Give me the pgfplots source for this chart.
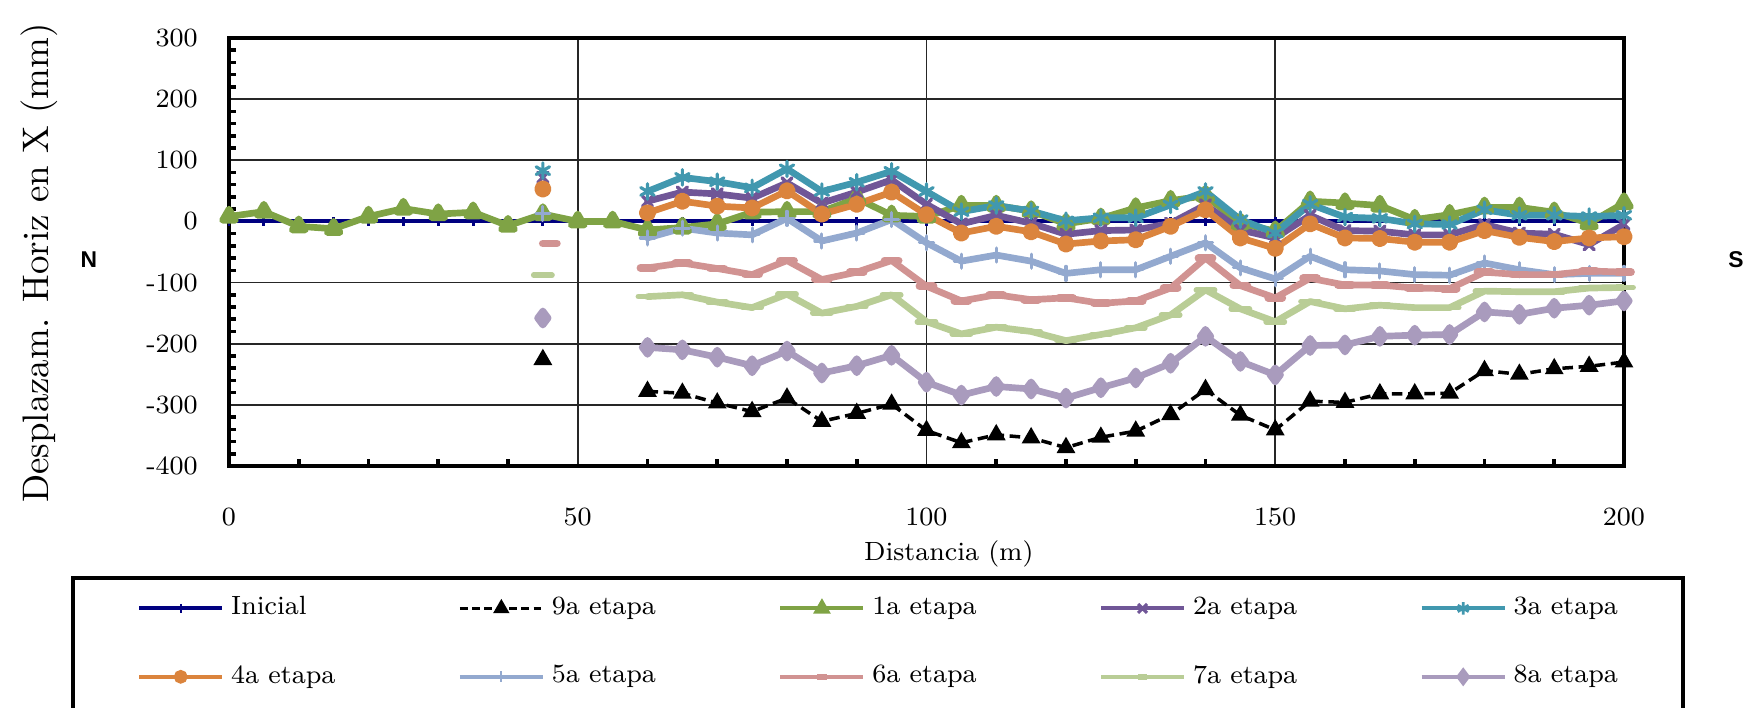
\documentclass[border=0pt]{standalone}
\usepackage{fontspec}
\newfontfamily\nsfont{Liberation Sans}
\usepackage{pgfplots}
\pgfplotsset{compat=1.18}

\definecolor{cIni}{RGB}{0,0,128}
\definecolor{c1}{RGB}{127,163,69}
\definecolor{c2}{RGB}{112,86,151}
\definecolor{c3}{RGB}{65,152,175}
\definecolor{c4}{RGB}{219,132,61}
\definecolor{c5}{RGB}{147,169,207}
\definecolor{c6}{RGB}{209,147,146}
\definecolor{c7}{RGB}{185,205,150}
\definecolor{c8}{RGB}{169,155,189}

\pgfplotsset{
  ln/.style={line width=1.9pt, line join=round, line cap=round},
  sIni/.style={cIni, line width=1.1pt, mark=|, mark size=1.2pt, mark options={line width=0.8pt}},
  s9/.style={black, line width=1pt, dash pattern=on 3pt off 1.6pt, mark=triangle*, mark size=2.1pt, mark options={solid}},
  s1/.style={c1, ln, mark=triangle*, mark size=2.1pt},
  s2/.style={c2, ln, mark=x, mark size=2pt, mark options={line width=1pt}},
  s3/.style={c3, ln, mark=asterisk, mark size=2.2pt, mark options={line width=0.9pt}},
  s4/.style={c4, ln, mark=*, mark size=1.5pt},
  s5/.style={c5, ln, mark=+, mark size=2pt, mark options={line width=0.9pt}},
  s6/.style={c6, ln, mark=-, mark size=2pt, mark options={line width=2.2pt, line cap=round}},
  s7/.style={c7, ln, mark=-, mark size=2.6pt, mark options={line width=1.6pt, line cap=round}},
  s8/.style={c8, ln, mark=diamond*, mark size=2pt},
}

\begin{document}
\begin{tikzpicture}
\begin{axis}[
  scale only axis, width=13.95cm, height=4.28cm,
  xmin=0, xmax=200, ymin=-400, ymax=300,
  xtick={0,50,...,200}, ytick={-400,-300,...,300},
  minor x tick num=4, minor y tick num=4,
  tick pos=left, tick align=inside,
  major tick length=0pt, minor tick length=0.07cm,
  tick style={black, line width=1pt},
  grid=major, major grid style={black!85, line width=0.5pt},
  axis line style={line width=1.1pt},
  /pgf/number format/assume math mode=true,
  ticklabel style={font=\fontsize{7.5}{9}\selectfont},
  xticklabel style={anchor=center, yshift=-0.51cm},
  yticklabel style={anchor=east, xshift=-0.19cm},
  xlabel={Distancia (m)},
  xlabel style={at={(axis description cs:0.516,-0.206)}, anchor=center, font=\fontsize{7.5}{9}\selectfont},
  ylabel={Desplazam. Horiz en X (mm)},
  ylabel style={at={(axis description cs:-0.136,0.474)}, anchor=center, font=\fontsize{10.5}{12}\selectfont},
  unbounded coords=jump,
  legend columns=5,
  legend cell align=left,
  legend style={at={(axis description cs:-0.0738,-0.4124)}, anchor=west,
    draw=none, fill=none, font=\fontsize{7.5}{8.5}\selectfont,
    /tikz/every even column/.append style={column sep=1.155cm},
    row sep=0.31cm},
  legend image code/.code={\draw[mark repeat=2, mark phase=2, #1]
    plot coordinates {(0cm,0cm) (0.415cm,0cm) (0.83cm,0cm)};},
]
% Inicial
\addplot[sIni, forget plot] coordinates {
(0,0)(5,0)(10,0)(15,0)(20,0)(25,0)(30,0)(35,0)(40,0)(45,0)(50,0)(55,0)(60,0)(65,0)(70,0)
(75,0)(80,0)(85,0)(90,0)(95,0)(100,0)(105,0)(110,0)(115,0)(120,0)(125,0)(130,0)(135,0)
(140,0)(145,0)(150,0)(155,0)(160,0)(165,0)(170,0)(175,0)(180,0)(185,0)(190,0)(195,0)(200,0)};
% 9a etapa
\addplot[s9, forget plot] coordinates {
(45,-226)(50,nan)(60,-278)(65,-281)(70,-297)(75,-311)(80,-289)(85,-327)(90,-314)(95,-299)
(100,-342)(105,-362)(110,-349)(115,-354)(120,-370)(125,-353)(130,-343)(135,-316)(140,-275)
(145,-317)(150,-341)(155,-294)(160,-296)(165,-282)(170,-282)(175,-281)(180,-244)(185,-250)
(190,-241)(195,-237)(200,-230)};
% 1a etapa
\addplot[s1, forget plot] coordinates {
(0,8)(5,16)(10,-8)(15,-12)(20,8)(25,21)(30,12)(35,15)(40,-7)(45,12)(50,0)(55,0)(60,-14)
(65,-10)(70,-4)(75,15)(80,16)(85,16)(90,38)(95,10)(100,8)(105,26)(110,26)(115,17)(120,-4)
(125,5)(130,22)(135,34)(140,42)(145,-3)(150,-16)(155,33)(160,30)(165,26)(170,3)(175,11)
(180,23)(185,23)(190,15)(195,-3)(200,30)};
% 2a etapa
\addplot[s2, forget plot] coordinates {
(45,72)(50,nan)(60,33)(65,48)(70,45)(75,38)(80,63)(85,30)(90,48)(95,68)(100,28)(105,-4)
(110,10)(115,-3)(120,-21)(125,-15)(130,-14)(135,-3)(140,27)(145,-14)(150,-27)(155,10)
(160,-15)(165,-16)(170,-22)(175,-22)(180,-5)(185,-19)(190,-21)(195,-38)(200,-5)};
% 3a etapa
\addplot[s3, forget plot] coordinates {
(45,83)(50,nan)(60,49)(65,72)(70,65)(75,55)(80,86)(85,49)(90,64)(95,82)(100,49)(105,16)
(110,26)(115,17)(120,1)(125,6)(130,6)(135,27)(140,49)(145,3)(150,-19)(155,28)(160,7)
(165,5)(170,-4)(175,-5)(180,19)(185,10)(190,10)(195,8)(200,10)};
% 4a etapa
\addplot[s4, forget plot] coordinates {
(45,53)(50,nan)(60,14)(65,33)(70,25)(75,22)(80,50)(85,12)(90,28)(95,48)(100,11)(105,-19)
(110,-8)(115,-17)(120,-37)(125,-32)(130,-30)(135,-8)(140,19)(145,-27)(150,-44)(155,-4)
(160,-27)(165,-28)(170,-34)(175,-34)(180,-15)(185,-26)(190,-33)(195,-27)(200,-25)};
% 5a etapa
\addplot[s5, forget plot] coordinates {
(45,13)(50,nan)(60,-27)(65,-11)(70,-19)(75,-22)(80,5)(85,-32)(90,-19)(95,3)(100,-35)
(105,-65)(110,-55)(115,-65)(120,-85)(125,-79)(130,-79)(135,-57)(140,-35)(145,-76)(150,-94)
(155,-57)(160,-79)(165,-81)(170,-87)(175,-88)(180,-68)(185,-79)(190,-87)(195,-85)(200,-85)};
% 6a etapa
\addplot[s6, forget plot] coordinates {
(46,-36)(50,nan)(60,-76)(65,-68)(70,-77)(75,-87)(80,-64)(85,-95)(90,-83)(95,-64)(100,-106)
(105,-130)(110,-120)(115,-128)(120,-125)(125,-134)(130,-130)(135,-109)(140,-60)(145,-105)
(150,-125)(155,-93)(160,-104)(165,-104)(170,-109)(175,-110)(180,-83)(185,-87)(190,-87)
(195,-81)(200,-83)};
% 7a etapa
\addplot[s7, forget plot] coordinates {
(45,-88)(50,nan)(60,-123)(65,-120)(70,-132)(75,-141)(80,-119)(85,-150)(90,-139)(95,-120)
(100,-164)(105,-184)(110,-173)(115,-180)(120,-195)(125,-185)(130,-174)(135,-153)(140,-112)
(145,-143)(150,-164)(155,-131)(160,-143)(165,-137)(170,-141)(175,-141)(180,-114)(185,-115)
(190,-115)(195,-109)(200,-108)};
% 8a etapa
\addplot[s8, forget plot] coordinates {
(45,-158)(50,nan)(60,-206)(65,-210)(70,-222)(75,-236)(80,-212)(85,-248)(90,-236)(95,-219)
(100,-263)(105,-284)(110,-270)(115,-274)(120,-289)(125,-272)(130,-256)(135,-232)(140,-188)
(145,-229)(150,-251)(155,-203)(160,-202)(165,-188)(170,-186)(175,-185)(180,-148)(185,-152)
(190,-142)(195,-137)(200,-130)};
% legend images
\addlegendimage{cIni, line width=1.1pt, mark=|, mark size=1.3pt, mark options={line width=0.6pt}}
\addlegendimage{black, line width=0.9pt, dash pattern=on 2.2pt off 1.3pt, mark=triangle*, mark size=1.8pt, mark options={solid}}
\addlegendimage{c1, line width=1.1pt, mark=triangle*, mark size=1.8pt}
\addlegendimage{c2, line width=1.1pt, mark=x, mark size=1.8pt, mark options={line width=0.9pt}}
\addlegendimage{c3, line width=1.1pt, mark=asterisk, mark size=1.8pt, mark options={line width=0.8pt}}
\addlegendimage{c4, line width=1.1pt, mark=*, mark size=1.4pt}
\addlegendimage{c5, line width=1.1pt, mark=|, mark size=1.6pt, mark options={line width=0.6pt}}
\addlegendimage{c6, line width=1.1pt, mark=-, mark size=1.4pt, mark options={line width=1.6pt}}
\addlegendimage{c7, line width=1.1pt, mark=-, mark size=1.4pt, mark options={line width=1.6pt}}
\addlegendimage{c8, line width=1.1pt, mark=diamond*, mark size=1.8pt}
\legend{Inicial, 9a etapa, 1a etapa, 2a etapa, 3a etapa, 4a etapa, 5a etapa, 6a etapa, 7a etapa, 8a etapa}
\end{axis}
\node[font=\fontsize{6.5}{7}\nsfont\bfseries] at (-1.40,2.06) {N};
\node[font=\fontsize{6.5}{7}\nsfont\bfseries] at (15.07,2.06) {S};
\draw[line width=0.9pt] (-1.56,-1.12) rectangle (14.54,-2.8);
\pgfresetboundingbox
\useasboundingbox (-2.29,-2.42) rectangle (15.16,4.66);
\end{tikzpicture}
\end{document}
